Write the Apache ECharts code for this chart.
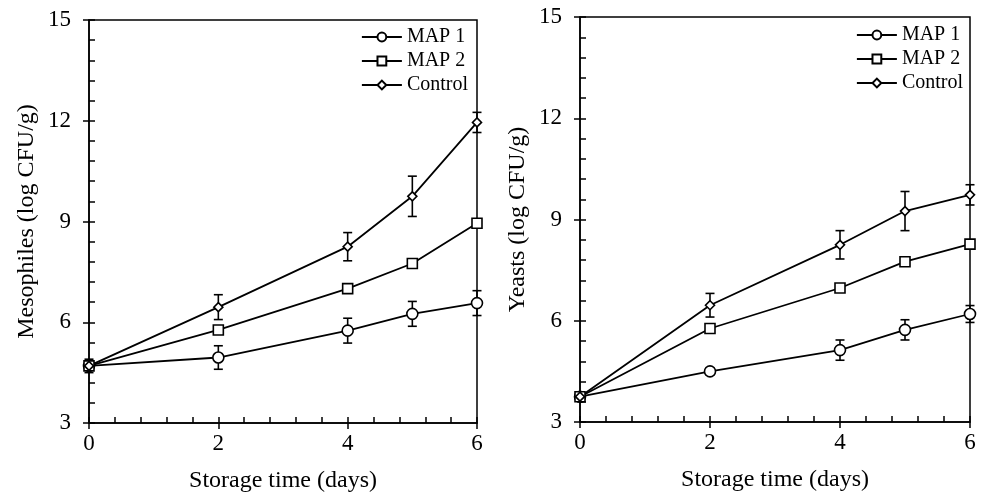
<!DOCTYPE html>
<html>
<head>
<meta charset="utf-8">
<script src="https://cdn.jsdelivr.net/npm/echarts@6/dist/echarts.min.js"></script>
<style>html,body{margin:0;padding:0;background:#fff;}#c{width:982px;height:494px;}</style>
</head>
<body>
<div id="c"></div>
<script>
const days = [0, 2, 4, 5, 6];
const seriesNames = ['MAP 1', 'MAP 2', 'Control'];
const yTicks = [3, 6, 9, 12, 15];
const xTicks = [0, 2, 4, 6];

// Mesophiles (left panel)
const mesoMAP1 = [4.7, 4.95, 5.75, 6.25, 6.57];
const mesoMAP2 = [4.7, 5.77, 7.0, 7.75, 8.95];
const mesoControl = [4.7, 6.45, 8.25, 9.75, 11.95];
const mesoErrMAP1 = [0.2, 0.35, 0.37, 0.37, 0.37];
const mesoErrMAP2 = [0.1, 0.1, 0.1, 0.1, 0.1];
const mesoErrControl = [0.1, 0.37, 0.42, 0.6, 0.3];

// Yeasts (right panel)
const yeastMAP1 = [3.75, 4.5, 5.13, 5.73, 6.2];
const yeastMAP2 = [3.75, 5.77, 6.97, 7.75, 8.27];
const yeastControl = [3.75, 6.46, 8.25, 9.25, 9.73];
const yeastErrMAP1 = [0.1, 0.1, 0.3, 0.3, 0.25];
const yeastErrMAP2 = [0.1, 0.1, 0.1, 0.1, 0.1];
const yeastErrControl = [0.1, 0.35, 0.42, 0.58, 0.3];

const FONT = 'Liberation Serif';
const symbols = ['circle', 'rect', 'diamond'];
const symbolSizes = [11, 10, 9];

const chart = echarts.init(document.getElementById('c'));

function pairs(vals) { return days.map((d, i) => [d, vals[i]]); }
function errData(vals, errs) { return days.map((d, i) => [d, vals[i] - errs[i], vals[i] + errs[i]]); }

function xAxes(gridIndex, name) {
  return [{
    type: 'value', gridIndex, min: 0, max: 6, interval: 2, position: 'bottom',
    name, nameLocation: 'middle', nameGap: 46,
    nameTextStyle: { fontFamily: FONT, fontSize: 24, color: '#000' },
    axisLine: { show: true, lineStyle: { color: '#000', width: 1.5 } },
    axisTick: { show: true, inside: true, length: 6, lineStyle: { color: '#000', width: 1.5 } },
    minorTick: { show: true, splitNumber: 5, length: 6, lineStyle: { color: '#000', width: 1.5 } },
    axisLabel: { fontFamily: FONT, fontSize: 23, color: '#000', margin: 9,
      formatter: v => xTicks.includes(v) ? String(v) : '' },
    splitLine: { show: false }
  }, {
    type: 'value', gridIndex, min: 0, max: 6, interval: 2, position: 'bottom',
    axisLine: { show: false }, axisLabel: { show: false },
    axisTick: { show: true, inside: false, length: 6, lineStyle: { color: '#000', width: 1.5 } },
    splitLine: { show: false }
  }];
}
function yAxes(gridIndex, name) {
  return [{
    type: 'value', gridIndex, min: 3, max: 15, interval: 3, position: 'left',
    name, nameLocation: 'middle', nameGap: 50,
    nameTextStyle: { fontFamily: FONT, fontSize: 24, color: '#000' },
    axisLine: { show: true, lineStyle: { color: '#000', width: 1.5 } },
    axisTick: { show: true, inside: true, length: 6, lineStyle: { color: '#000', width: 1.5 } },
    minorTick: { show: true, splitNumber: 5, length: 6, lineStyle: { color: '#000', width: 1.5 } },
    axisLabel: { fontFamily: FONT, fontSize: 23, color: '#000', margin: 18,
      formatter: v => yTicks.includes(v) ? String(v) : '' },
    splitLine: { show: false }
  }, {
    type: 'value', gridIndex, min: 3, max: 15, interval: 3, position: 'left',
    axisLine: { show: false }, axisLabel: { show: false },
    axisTick: { show: true, inside: false, length: 6, lineStyle: { color: '#000', width: 1.5 } },
    splitLine: { show: false }
  }];
}

function lineSeries(name, vals, idx, axisBase) {
  return {
    name, type: 'line', xAxisIndex: axisBase, yAxisIndex: axisBase,
    data: pairs(vals), symbol: symbols[idx], symbolSize: symbolSizes[idx],
    showSymbol: true, clip: false, z: 5,
    lineStyle: { color: '#000', width: 1.8 },
    itemStyle: { color: '#fff', borderColor: '#000', borderWidth: 1.6 },
    emphasis: { disabled: true }
  };
}
function errSeries(vals, errs, axisBase) {
  return {
    type: 'custom', xAxisIndex: axisBase, yAxisIndex: axisBase, z: 3, clip: false,
    data: errData(vals, errs),
    renderItem: (params, api) => {
      const lo = api.coord([api.value(0), api.value(1)]);
      const hi = api.coord([api.value(0), api.value(2)]);
      const hw = 4.5;
      const st = { stroke: '#000', lineWidth: 1.6 };
      return { type: 'group', children: [
        { type: 'line', shape: { x1: lo[0], y1: lo[1], x2: hi[0], y2: hi[1] }, style: st },
        { type: 'line', shape: { x1: lo[0] - hw, y1: lo[1], x2: lo[0] + hw, y2: lo[1] }, style: st },
        { type: 'line', shape: { x1: hi[0] - hw, y1: hi[1], x2: hi[0] + hw, y2: hi[1] }, style: st }
      ]};
    }
  };
}

const legendCommon = {
  orient: 'vertical', itemWidth: 40, itemHeight: 11, itemGap: 4,
  textStyle: { fontFamily: FONT, fontSize: 20, color: '#000' },
  data: seriesNames, selectedMode: false
};

const option = {
  backgroundColor: '#fff',
  animation: false,
  grid: [
    { left: 89, right: 505, top: 20, bottom: 71, show: true, borderColor: '#000', borderWidth: 1.5,
      outerBoundsMode: 'none', containLabel: false },
    { left: 580, right: 12, top: 17, bottom: 72, show: true, borderColor: '#000', borderWidth: 1.5,
      outerBoundsMode: 'none', containLabel: false }
  ],
  legend: [
    Object.assign({ right: 509, top: 22 }, legendCommon),
    Object.assign({ right: 14, top: 20 }, legendCommon)
  ],
  xAxis: [].concat(xAxes(0, 'Storage time (days)'), xAxes(1, 'Storage time (days)')),
  yAxis: [].concat(yAxes(0, 'Mesophiles (log CFU/g)'), yAxes(1, 'Yeasts (log CFU/g)')),
  series: [
    errSeries(mesoMAP1, mesoErrMAP1, 0),
    errSeries(mesoMAP2, mesoErrMAP2, 0),
    errSeries(mesoControl, mesoErrControl, 0),
    lineSeries('MAP 1', mesoMAP1, 0, 0),
    lineSeries('MAP 2', mesoMAP2, 1, 0),
    lineSeries('Control', mesoControl, 2, 0),
    errSeries(yeastMAP1, yeastErrMAP1, 2),
    errSeries(yeastMAP2, yeastErrMAP2, 2),
    errSeries(yeastControl, yeastErrControl, 2),
    lineSeries('MAP 1', yeastMAP1, 0, 2),
    lineSeries('MAP 2', yeastMAP2, 1, 2),
    lineSeries('Control', yeastControl, 2, 2)
  ]
};
chart.setOption(option);
</script>
</body>
</html>
